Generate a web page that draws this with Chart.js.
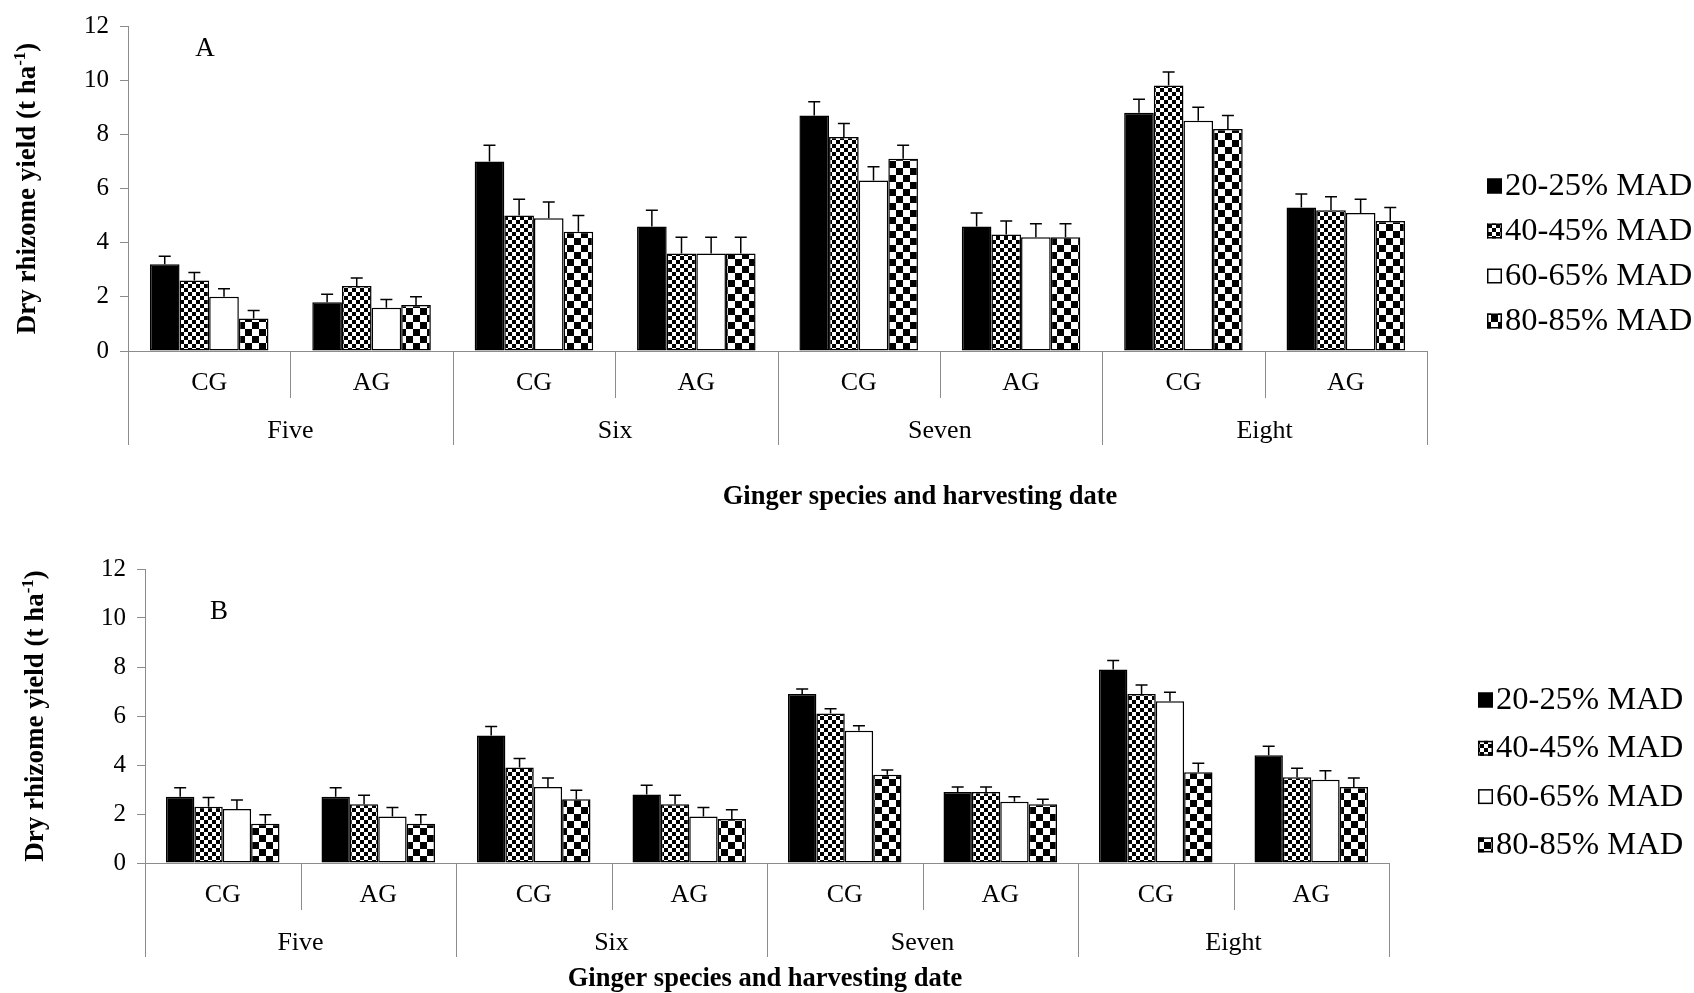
<!DOCTYPE html>
<html>
<head>
<meta charset="utf-8">
<script src="https://cdn.jsdelivr.net/npm/chart.js@4.4.1/dist/chart.umd.min.js"></script>
<style>
  html, body { margin: 0; padding: 0; background: #fff; }
  canvas { position: absolute; left: 0; }
  #chartA { top: 0; }
  #chartB { top: 520px; }
</style>
</head>
<body>
<canvas id="chartA" width="1694" height="520"></canvas>
<canvas id="chartB" width="1694" height="473"></canvas>
<script>
const species = ["CG", "AG", "CG", "AG", "CG", "AG", "CG", "AG"];
const months = ["Five", "Six", "Seven", "Eight"];
const madLevels = ["20-25% MAD", "40-45% MAD", "60-65% MAD", "80-85% MAD"];
const yTicks = [0, 2, 4, 6, 8, 10, 12];

// panel A
const yieldA_20 = [3.2, 1.8, 7.0, 4.6, 8.7, 4.6, 8.8, 5.3];
const yieldA_40 = [2.6, 2.4, 5.0, 3.6, 7.9, 4.3, 9.8, 5.2];
const yieldA_60 = [2.0, 1.6, 4.9, 3.6, 6.3, 4.2, 8.5, 5.1];
const yieldA_80 = [1.2, 1.7, 4.4, 3.6, 7.1, 4.2, 8.2, 4.8];
const errA = [0.3, 0.3, 0.6, 0.6, 0.5, 0.5, 0.5, 0.5];

// panel B
const yieldB_20 = [2.7, 2.7, 5.2, 2.8, 6.9, 2.9, 7.9, 4.4];
const yieldB_40 = [2.3, 2.4, 3.9, 2.4, 6.1, 2.9, 6.9, 3.5];
const yieldB_60 = [2.2, 1.9, 3.1, 1.9, 5.4, 2.5, 6.6, 3.4];
const yieldB_80 = [1.6, 1.6, 2.6, 1.8, 3.6, 2.4, 3.7, 3.1];
const errB = [0.37, 0.37, 0.37, 0.37, 0.2, 0.2, 0.37, 0.37];

const gray = "#8c8c8c";
const serif = "'Liberation Serif', 'Times New Roman', serif";
Chart.defaults.font.family = serif;
Chart.defaults.color = "#000";

function checker(cell) {
  const c = document.createElement("canvas");
  c.width = c.height = cell * 2;
  const g = c.getContext("2d");
  g.fillStyle = "#fff";
  g.fillRect(0, 0, cell * 2, cell * 2);
  g.fillStyle = "#000";
  g.fillRect(0, 0, cell, cell);
  g.fillRect(cell, cell, cell, cell);
  return g.createPattern(c, "repeat");
}
const fills = ["#000", checker(4), "#fff", checker(7)];

const errorBars = {
  id: "errorBars",
  afterDatasetsDraw(chart) {
    const ctx = chart.ctx, y = chart.scales.y;
    ctx.save();
    ctx.strokeStyle = "#000";
    ctx.lineWidth = 1.5;
    chart.data.datasets.forEach((ds, di) => {
      chart.getDatasetMeta(di).data.forEach((bar, i) => {
        const top = y.getPixelForValue(ds.data[i] + ds.errors[i]);
        ctx.beginPath();
        ctx.moveTo(bar.x, bar.y);
        ctx.lineTo(bar.x, top);
        ctx.moveTo(bar.x - 6, top);
        ctx.lineTo(bar.x + 6, top);
        ctx.stroke();
      });
    });
    ctx.restore();
  }
};

const decor = {
  id: "decor",
  afterDraw(chart, args, o) {
    const ctx = chart.ctx, x = chart.scales.x, ca = chart.chartArea;
    const base = ca.bottom, n = species.length;
    ctx.save();

    // grouped category axis
    ctx.strokeStyle = gray;
    ctx.lineWidth = 1;
    for (let i = 0; i <= n; i++) {
      let px;
      if (i === 0) px = x.left;
      else if (i === n) px = x.right;
      else px = (x.getPixelForValue(i - 1) + x.getPixelForValue(i)) / 2;
      px = Math.round(px) + 0.5;
      ctx.beginPath();
      ctx.moveTo(px, base);
      ctx.lineTo(px, base + (i % 2 === 0 ? 94 : 47));
      ctx.stroke();
    }
    ctx.fillStyle = "#000";
    ctx.textAlign = "center";
    ctx.textBaseline = "middle";
    ctx.font = "26px " + serif;
    species.forEach((s, i) => ctx.fillText(s, x.getPixelForValue(i), base + 32));
    months.forEach((m, g) => {
      const cx = (x.getPixelForValue(2 * g) + x.getPixelForValue(2 * g + 1)) / 2;
      ctx.fillText(m, cx, base + 80);
    });

    // panel letter
    ctx.font = "27px " + serif;
    ctx.fillText(o.letter, o.letterX, o.letterY);

    // x title
    ctx.font = "bold 26.5px " + serif;
    ctx.fillText("Ginger species and harvesting date", o.xTitleX, o.xTitleY);

    // y title with superscript
    ctx.save();
    ctx.translate(o.yTitleX, (ca.top + ca.bottom) / 2);
    ctx.rotate(-Math.PI / 2);
    ctx.textAlign = "left";
    ctx.textBaseline = "alphabetic";
    const main = "Dry rhizome yield (t ha", sup = "-1", close = ")";
    ctx.font = "bold 27px " + serif;
    const w1 = ctx.measureText(main).width, w3 = ctx.measureText(close).width;
    ctx.font = "bold 17px " + serif;
    const w2 = ctx.measureText(sup).width;
    let sx = -(w1 + w2 + w3) / 2;
    ctx.font = "bold 27px " + serif;
    ctx.fillText(main, sx, 9);
    ctx.font = "bold 17px " + serif;
    ctx.fillText(sup, sx + w1, -1);
    ctx.font = "bold 27px " + serif;
    ctx.fillText(close, sx + w1 + w2, 9);
    ctx.restore();

    // legend
    chart.data.datasets.forEach((ds, k) => {
      const cy = o.legendY + k * o.legendStep;
      ctx.fillStyle = ds.backgroundColor;
      ctx.fillRect(o.legendX, cy - 7.5, 15, 15);
      ctx.strokeStyle = "#000";
      ctx.lineWidth = 1.5;
      ctx.strokeRect(o.legendX + 0.75, cy - 6.75, 13.5, 13.5);
      ctx.save();
      ctx.translate(o.legendX + 18, cy + 1);
      ctx.scale(1.05, 1);
      ctx.fillStyle = "#000";
      ctx.font = "31px " + serif;
      ctx.textAlign = "left";
      ctx.textBaseline = "middle";
      ctx.fillText(ds.label, 0, 0);
      ctx.restore();
    });
    ctx.restore();
  }
};

function makeChart(id, series, errs, lay, deco) {
  new Chart(document.getElementById(id), {
    type: "bar",
    data: {
      labels: species,
      datasets: series.map((vals, k) => ({
        label: madLevels[k],
        data: vals,
        errors: errs,
        backgroundColor: fills[k],
        borderColor: "#000",
        borderWidth: 1.5,
        borderSkipped: false,
        categoryPercentage: 0.73,
        barPercentage: 1.0
      }))
    },
    options: {
      responsive: false,
      animation: false,
      devicePixelRatio: 1,
      layout: { padding: { left: 0, top: lay.top, right: lay.right, bottom: 0 } },
      plugins: { legend: { display: false }, tooltip: { enabled: false }, decor: deco },
      scales: {
        x: {
          ticks: { display: false },
          grid: { display: false },
          border: { color: gray, width: 1 },
          afterFit(s) { s.height = lay.xHeight; }
        },
        y: {
          min: yTicks[0],
          max: yTicks[yTicks.length - 1],
          ticks: { stepSize: 2, font: { size: 25 }, padding: 11, color: "#000" },
          grid: { drawOnChartArea: false, drawTicks: true, tickLength: 8, color: gray },
          border: { color: gray, width: 1 },
          afterFit(s) { s.width = lay.left; }
        }
      }
    },
    plugins: [errorBars, decor]
  });
}

makeChart("chartA", [yieldA_20, yieldA_40, yieldA_60, yieldA_80], errA,
  { top: 23, right: 267, left: 128, xHeight: 169 },
  { letter: "A", letterX: 205, letterY: 49, xTitleX: 920, xTitleY: 497, yTitleX: 26,
    legendX: 1487, legendY: 186, legendStep: 45 });

makeChart("chartB", [yieldB_20, yieldB_40, yieldB_60, yieldB_80], errB,
  { top: 49, right: 305, left: 145, xHeight: 130 },
  { letter: "B", letterX: 219, letterY: 92, xTitleX: 765, xTitleY: 459, yTitleX: 34,
    legendX: 1478, legendY: 180, legendStep: 48.3 });
</script>
</body>
</html>
